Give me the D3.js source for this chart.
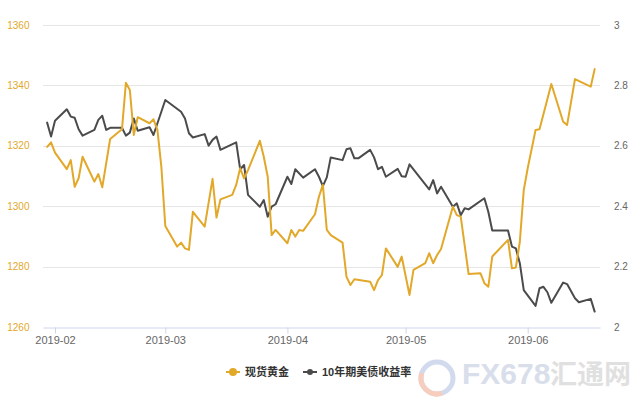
<!DOCTYPE html>
<html><head><meta charset="utf-8">
<script src="https://cdn.jsdelivr.net/npm/d3@7"></script>
<style>body{margin:0;background:#fff} svg{display:block}</style>
</head><body>
<svg id="chart" width="640" height="400"></svg>
<script>
const goldDates = ["2019-01-30","2019-01-31","2019-02-01","2019-02-04","2019-02-05","2019-02-06","2019-02-07","2019-02-08","2019-02-11","2019-02-12","2019-02-13","2019-02-15","2019-02-18","2019-02-19","2019-02-20","2019-02-21","2019-02-22","2019-02-25","2019-02-26","2019-02-27","2019-02-28","2019-03-01","2019-03-04","2019-03-05","2019-03-06","2019-03-07","2019-03-08","2019-03-11","2019-03-13","2019-03-14","2019-03-15","2019-03-18","2019-03-19","2019-03-20","2019-03-21","2019-03-22","2019-03-25","2019-03-26","2019-03-27","2019-03-28","2019-03-29","2019-04-01","2019-04-02","2019-04-03","2019-04-04","2019-04-05","2019-04-08","2019-04-09","2019-04-10","2019-04-11","2019-04-12","2019-04-15","2019-04-16","2019-04-17","2019-04-18","2019-04-22","2019-04-23","2019-04-24","2019-04-25","2019-04-26","2019-04-29","2019-04-30","2019-05-02","2019-05-03","2019-05-06","2019-05-07","2019-05-08","2019-05-09","2019-05-10","2019-05-13","2019-05-14","2019-05-15","2019-05-17","2019-05-20","2019-05-21","2019-05-22","2019-05-23","2019-05-27","2019-05-28","2019-05-29","2019-05-30","2019-05-31","2019-06-01","2019-06-03","2019-06-04","2019-06-07","2019-06-10","2019-06-11","2019-06-13","2019-06-17","2019-06-18"];
const goldValues = [1319.7,1321.2,1317.8,1312.3,1315.3,1306.5,1309.3,1316.4,1308.2,1310.7,1306.3,1322.3,1325.5,1340.9,1338.5,1323.6,1329.5,1327.5,1328.8,1325.3,1313.1,1293.5,1286.7,1288.0,1286.1,1285.6,1298.2,1293.3,1309.1,1296.3,1302.3,1303.8,1307.1,1312.6,1309.3,1312.0,1321.7,1316.4,1309.8,1290.5,1292.2,1287.8,1292.2,1290.0,1292.2,1291.9,1297.4,1303.2,1307.1,1292.2,1290.5,1288.0,1276.7,1274.0,1275.9,1275.1,1272.3,1275.6,1277.3,1286.1,1280.0,1283.4,1270.7,1279.0,1281.2,1284.5,1281.2,1283.9,1285.9,1299.9,1297.1,1296.6,1277.6,1277.9,1274.6,1273.4,1283.4,1288.9,1279.5,1279.8,1288.3,1305.4,1312.6,1325.3,1325.5,1340.5,1328.0,1326.9,1342.1,1339.6,1345.4];

const yieldDates = ["2019-01-30","2019-01-31","2019-02-01","2019-02-04","2019-02-05","2019-02-06","2019-02-07","2019-02-08","2019-02-11","2019-02-12","2019-02-13","2019-02-14","2019-02-15","2019-02-18","2019-02-19","2019-02-20","2019-02-21","2019-02-22","2019-02-25","2019-02-26","2019-03-01","2019-03-05","2019-03-06","2019-03-07","2019-03-08","2019-03-11","2019-03-12","2019-03-13","2019-03-14","2019-03-15","2019-03-19","2019-03-20","2019-03-21","2019-03-22","2019-03-25","2019-03-26","2019-03-27","2019-03-28","2019-03-29","2019-04-01","2019-04-02","2019-04-03","2019-04-05","2019-04-08","2019-04-09","2019-04-10","2019-04-11","2019-04-12","2019-04-15","2019-04-16","2019-04-17","2019-04-18","2019-04-19","2019-04-22","2019-04-23","2019-04-24","2019-04-25","2019-04-26","2019-04-29","2019-04-30","2019-05-01","2019-05-02","2019-05-07","2019-05-08","2019-05-09","2019-05-10","2019-05-13","2019-05-14","2019-05-15","2019-05-16","2019-05-17","2019-05-21","2019-05-22","2019-05-23","2019-05-27","2019-05-28","2019-05-29","2019-05-30","2019-05-31","2019-06-03","2019-06-04","2019-06-05","2019-06-06","2019-06-07","2019-06-10","2019-06-11","2019-06-13","2019-06-14","2019-06-17","2019-06-18"];
const yieldValues = [2.677,2.631,2.683,2.721,2.697,2.693,2.655,2.634,2.653,2.686,2.700,2.653,2.660,2.660,2.634,2.644,2.691,2.650,2.662,2.636,2.752,2.713,2.691,2.642,2.628,2.639,2.601,2.620,2.631,2.587,2.612,2.523,2.537,2.438,2.399,2.421,2.366,2.399,2.407,2.498,2.474,2.523,2.495,2.523,2.498,2.467,2.496,2.562,2.553,2.589,2.592,2.559,2.559,2.587,2.562,2.523,2.531,2.498,2.524,2.500,2.498,2.539,2.456,2.487,2.443,2.465,2.399,2.410,2.371,2.394,2.390,2.427,2.382,2.320,2.320,2.267,2.261,2.212,2.123,2.071,2.129,2.134,2.116,2.081,2.148,2.143,2.096,2.083,2.094,2.052];

const leftTicks = [1260,1280,1300,1320,1340,1360];
const rightTicks = [2,2.2,2.4,2.6,2.8,3];
const monthTicks = ["2019-02","2019-03","2019-04","2019-05","2019-06"];
const seriesNames = ["现货黄金","10年期美债收益率"];

const GOLD = "#e2a82a", DARK = "#4b4b4b";
const svg = d3.select("#chart");
const parseDay = d3.utcParse("%Y-%m-%d"), parseMonth = d3.utcParse("%Y-%m");
const L = 43, R = 600, T = 25, B = 327.3;

const x0 = d3.scaleUtc().domain([parseMonth(monthTicks[0]), parseMonth(monthTicks[4])]).range([55, 527.7]);
const x = x0.copy().domain([x0.invert(L), x0.invert(R)]).range([L, R]);
const yL = d3.scaleLinear().domain([1260, 1360]).range([B, T]);
const yR = d3.scaleLinear().domain([2, 3]).range([B, T]);

// grid
svg.append("g").selectAll("line").data(leftTicks.slice(1)).join("line")
  .attr("x1", L).attr("x2", R).attr("y1", d => Math.round(yL(d)) + 0.5).attr("y2", d => Math.round(yL(d)) + 0.5)
  .attr("stroke", "#e6e6e6").attr("stroke-width", 1);

// x axis
const xAxis = d3.axisBottom(x).tickValues(monthTicks.map(parseMonth))
  .tickFormat(d3.utcFormat("%Y-%m")).tickSize(6).tickSizeOuter(0).tickPadding(3);
const gx = svg.append("g").attr("transform", `translate(0,${Math.round(B) + 0.5})`).call(xAxis);
gx.select(".domain").attr("stroke", "#ccd6eb");
gx.selectAll(".tick line").attr("stroke", "#ccd6eb");
gx.selectAll(".tick text").attr("fill", "#666").style("font-family", "'Liberation Sans', Arial, sans-serif").style("font-size", "11px");

// left axis labels
svg.append("g").selectAll("text").data(leftTicks).join("text")
  .attr("x", 29.5).attr("y", d => yL(d)).attr("dy", "0.35em").attr("text-anchor", "end")
  .attr("fill", GOLD).style("font-family", "'Liberation Sans', Arial, sans-serif").style("font-size", "10px")
  .text(d => d);
// right axis labels
svg.append("g").selectAll("text").data(rightTicks).join("text")
  .attr("x", 614).attr("y", d => yR(d)).attr("dy", "0.35em").attr("text-anchor", "start")
  .attr("fill", "#666").style("font-family", "'Liberation Sans', Arial, sans-serif").style("font-size", "10px")
  .text(d => d3.format("~g")(d));

// lines
const goldData = goldDates.map((d, i) => [parseDay(d), goldValues[i]]);
const yieldData = yieldDates.map((d, i) => [parseDay(d), yieldValues[i]]);
svg.append("path").datum(yieldData).attr("fill", "none").attr("stroke", DARK).attr("stroke-width", 2)
  .attr("stroke-linejoin", "round").attr("stroke-linecap", "round")
  .attr("d", d3.line().x(d => x(d[0])).y(d => yR(d[1])));
svg.append("path").datum(goldData).attr("fill", "none").attr("stroke", GOLD).attr("stroke-width", 2)
  .attr("stroke-linejoin", "round").attr("stroke-linecap", "round")
  .attr("d", d3.line().x(d => x(d[0])).y(d => yL(d[1])));

// legend
const legend = [{name: seriesNames[0], color: GOLD, x: 226, r: 4}, {name: seriesNames[1], color: DARK, x: 303, r: 3}];
const lg = svg.append("g").selectAll("g").data(legend).join("g").attr("transform", d => `translate(${d.x},372)`);
lg.append("line").attr("x1", 0).attr("x2", 14).attr("stroke", d => d.color).attr("stroke-width", 2);
lg.append("circle").attr("cx", 7).attr("r", d => d.r).attr("fill", d => d.color);
lg.append("text").attr("x", 19).attr("dy", "0.35em").attr("fill", "#333")
  .style("font-family", "'Liberation Sans', 'Noto Sans CJK SC', sans-serif").style("font-size", "11px").style("font-weight", "bold")
  .text(d => d.name);

// watermark
const wm = svg.append("g").attr("opacity", 0.55);
wm.append("circle").attr("cx", 437).attr("cy", 378).attr("r", 16).attr("fill", "none").attr("stroke", "#aebde0").attr("stroke-width", 5);
wm.append("path").attr("d", d3.arc()({innerRadius: 13.5, outerRadius: 18.5, startAngle: Math.PI * 0.9, endAngle: Math.PI * 1.6}))
  .attr("transform", "translate(437,378)").attr("fill", "#f2a58a");
wm.append("text").attr("x", 462).attr("y", 384).attr("fill", "#b9c5db")
  .style("font-family", "'Liberation Sans', Arial, sans-serif").style("font-size", "30px").style("font-weight", "bold").text("FX678");
wm.append("text").attr("x", 550).attr("y", 384).attr("fill", "#c8c8c8")
  .style("font-family", "'Noto Sans CJK SC', sans-serif").style("font-size", "27px").style("font-weight", "bold").text("汇通网");
</script>
</body></html>
